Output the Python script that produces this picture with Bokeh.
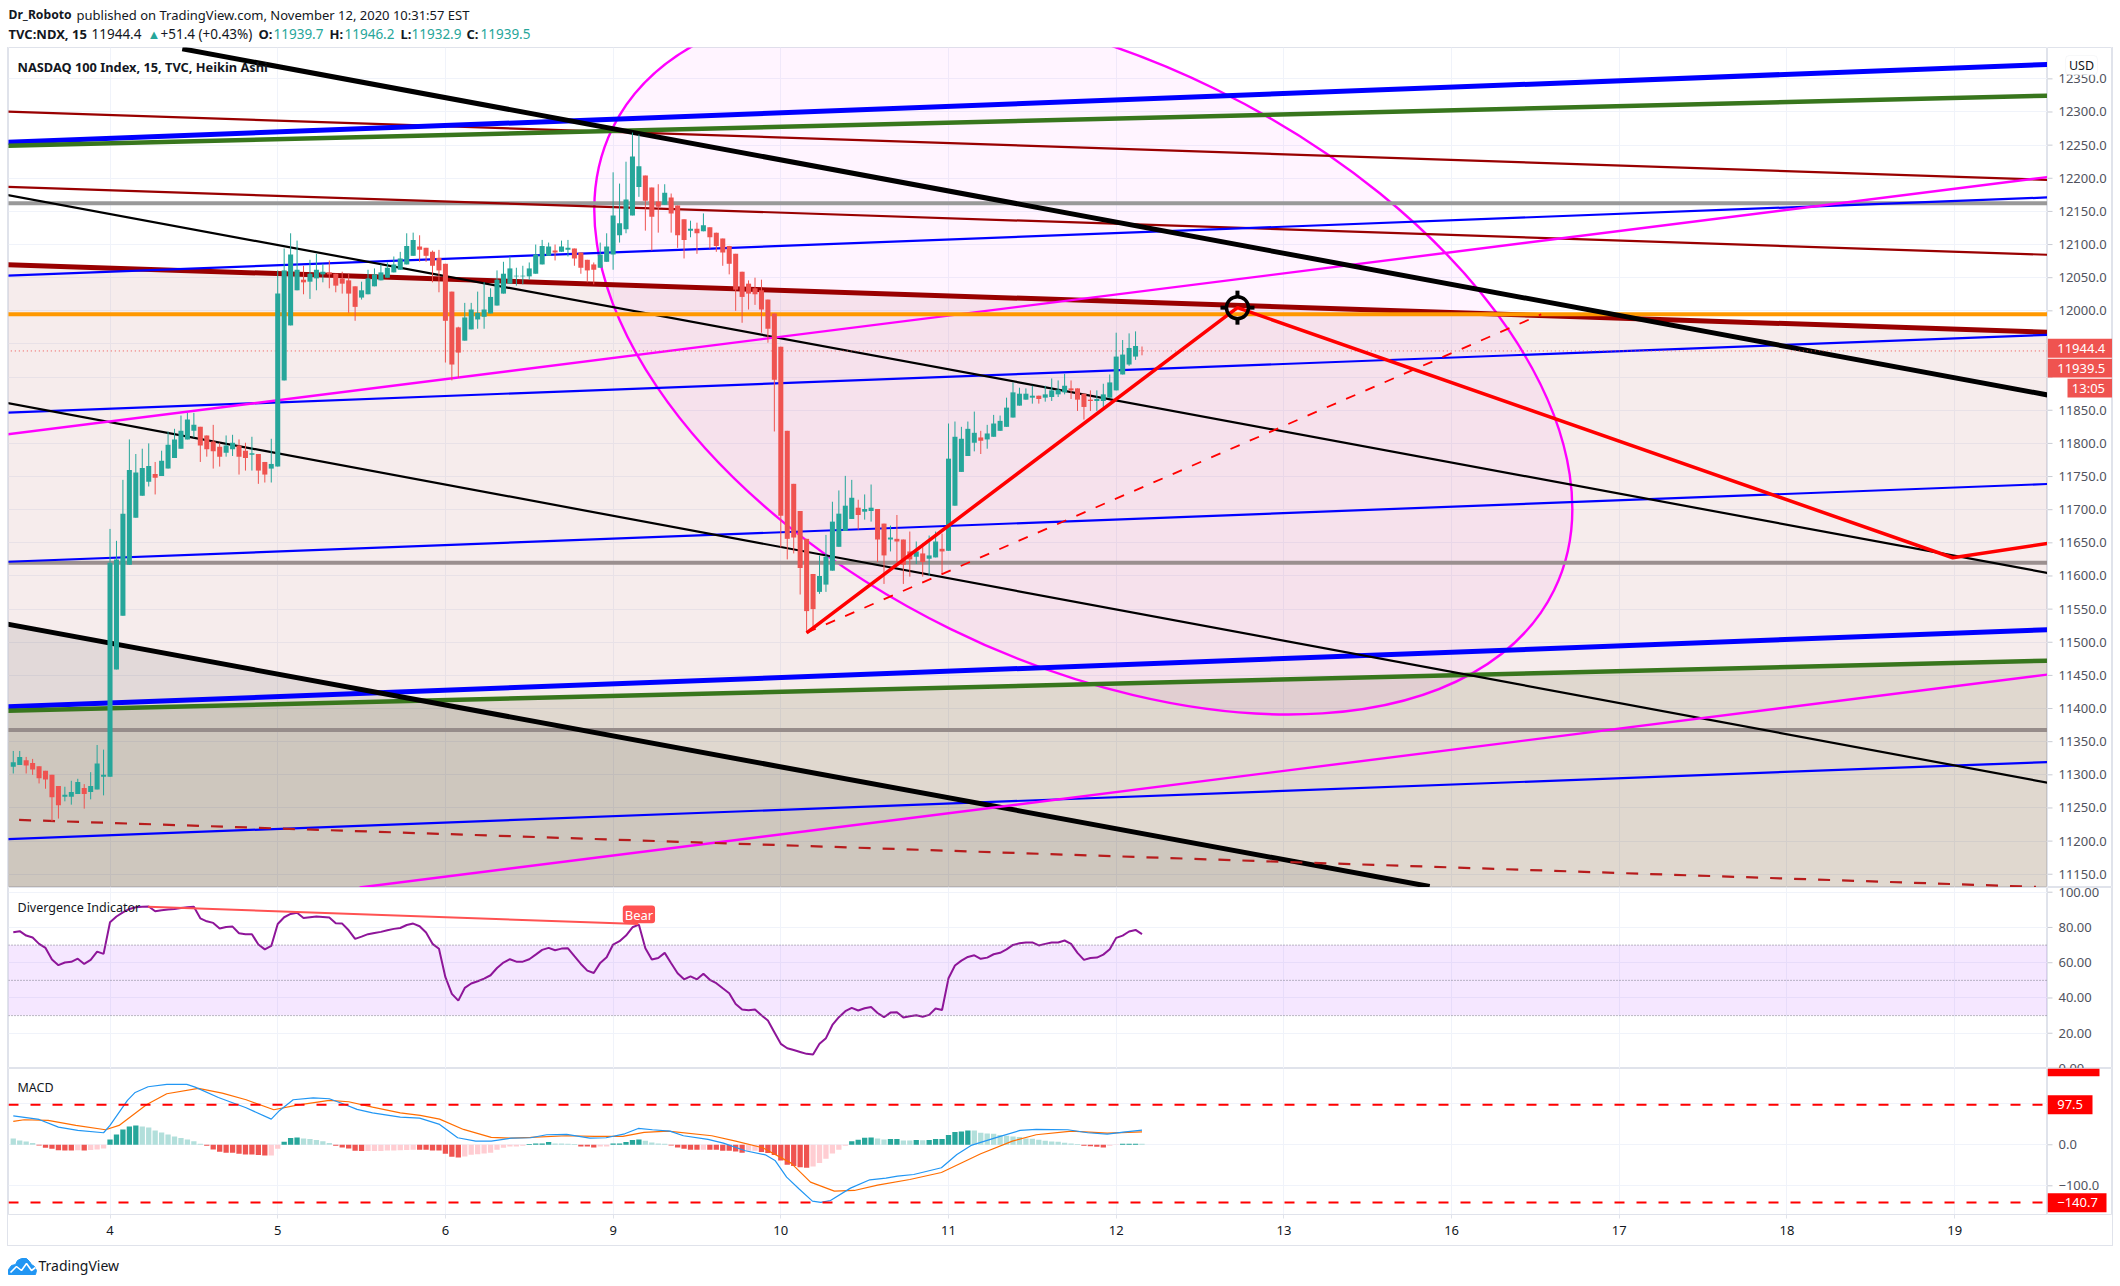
from bokeh.plotting import figure
from bokeh.layouts import column, row
from bokeh.embed import file_html
from bokeh.resources import INLINE
from bokeh.core.properties import value
from bokeh.models import Range1d, FixedTicker, Label, BoxAnnotation, Span
import numpy as np

# ---------------- data ----------------
opens = [11312,11315,11322,11318,11313,11306,11300,11283,11267,11267,11271,11280,11274,11278,11297,
 11297,11459,11540,11617,11688,11721,11742,11754,11751,11762,
 11778,11792,11806,11819,11825,11812,11803,11795,11786,11791,
 11797,11789,11783,11784,11772,11762,11765,11895,11978,12031,
 12047,12044,12049,12055,12058,12056,12049,12046,12037,12020,
 12025,12037,12046,12050,12058,12062,12070,12083,12097,12095,
 12089,12080,12071,12029,11975,11955,11972,11987,11991,11996,
 12008,12026,12041,12052,12052,12052,12056,12070,12083,12091,
 12089,12092,12094,12088,12077,12070,12065,12074,12085,12114,
 12123,12144,12187,12204,12186,12165,12160,12171,12159,12138,
 12121,12124,12120,12126,12118,12109,12098,12086,12059,12041,
 12034,12031,12017,11996,11946,11819,11739,11698,11656,11603,
 11576,11587,11608,11644,11668,11686,11703,11697,11698,11701,
 11679,11655,11656,11655,11637,11629,11634,11626,11628,11641,
 11638,11706,11757,11781,11801,11809,11806,11810,11819,11825,
 11839,11857,11866,11869,11872,11869,11870,11874,11877,11883,
 11883,11875,11866,11864,11864,11869,11880,11904,11919,11931,11939.7]
closes = [11319,11327,11314,11308,11295,11293,11266,11254,11270,11274,11289,11271,11283,11317,11300,
 11620,11625,11694,11760,11756,11763,11766,11748,11774,11798,
 11806,11819,11836,11828,11797,11791,11788,11780,11797,11801,
 11780,11778,11785,11759,11753,11769,12026,12061,12085,12062,
 12043,12056,12062,12059,12055,12038,12041,12026,12006,12031,
 12049,12055,12058,12065,12070,12079,12098,12107,12092,12083,
 12068,12061,11985,11919,11937,11990,12002,11997,12002,12021,
 12047,12056,12064,12053,12053,12064,12085,12098,12097,12088,
 12097,12095,12079,12065,12061,12062,12085,12097,12144,12132,
 12168,12233,12218,12166,12142,12157,12178,12147,12114,12107,
 12124,12117,12129,12111,12098,12088,12071,12032,12021,12026,
 12025,12002,11973,11896,11691,11656,11658,11612,11547,11550,
 11600,11629,11682,11694,11706,11718,11692,11701,11703,11655,
 11631,11658,11652,11617,11625,11637,11621,11631,11652,11637,
 11777,11810,11807,11822,11816,11804,11815,11830,11834,11854,
 11877,11875,11875,11872,11867,11874,11880,11881,11887,11880,
 11866,11855,11864,11867,11874,11892,11931,11934,11944,11947,11939.5]
highs = [11336,11336,11327,11324,11313,11306,11300,11283,11282,11291,11294,11286,11304,11345,11338,
 11671,11653,11745,11806,11784,11792,11800,11772,11789,11818,
 11822,11842,11846,11846,11825,11812,11828,11801,11812,11813,
 11806,11801,11810,11784,11772,11807,12061,12094,12117,12106,
 12068,12077,12086,12071,12076,12056,12059,12056,12037,12044,
 12062,12064,12070,12073,12082,12089,12117,12118,12114,12095,
 12091,12092,12071,12029,11976,12012,12012,12029,12043,12034,
 12061,12074,12082,12065,12068,12073,12100,12107,12103,12100,
 12106,12107,12094,12088,12077,12073,12103,12117,12209,12192,
 12225,12269,12266,12204,12186,12191,12191,12177,12159,12138,
 12136,12133,12147,12126,12118,12109,12098,12086,12059,12046,
 12050,12047,12017,11996,11946,11819,11739,11698,11656,11603,
 11631,11662,11712,11729,11751,11745,11715,11723,11738,11701,
 11679,11676,11692,11655,11667,11652,11649,11661,11667,11664,
 11830,11833,11825,11833,11848,11819,11828,11843,11842,11869,
 11892,11884,11883,11887,11872,11887,11898,11895,11905,11895,
 11883,11875,11880,11880,11890,11904,11967,11956,11966,11969,11946.2]
lows = [11302,11315,11302,11300,11287,11279,11230,11234,11260,11255,11271,11249,11263,11278,11269,
 11297,11459,11540,11617,11688,11721,11735,11723,11751,11762,
 11778,11792,11806,11809,11772,11780,11762,11765,11780,11781,
 11753,11759,11759,11739,11741,11741,11765,11895,11978,12031,
 12025,12018,12031,12043,12034,12028,12026,11997,11985,12017,
 12025,12037,12046,12050,12058,12062,12070,12083,12074,12074,
 12043,12028,11922,11895,11899,11955,11972,11973,11973,11996,
 12008,12026,12041,12038,12040,12047,12056,12070,12083,12076,
 12089,12082,12068,12056,12043,12040,12065,12074,12062,12103,
 12117,12144,12172,12121,12091,12118,12160,12118,12095,12079,
 12111,12086,12120,12094,12089,12068,12055,12000,11982,12002,
 12009,11967,11952,11818,11643,11625,11634,11572,11516,11520,
 11573,11576,11608,11644,11668,11686,11670,11685,11682,11621,
 11588,11637,11621,11588,11599,11618,11599,11600,11628,11603,
 11638,11706,11757,11781,11788,11784,11792,11810,11819,11825,
 11839,11857,11866,11860,11860,11863,11864,11870,11874,11867,
 11849,11836,11849,11849,11855,11869,11880,11904,11917,11926,11932.9]

rsi = [77.3,77.9,75.4,74.3,70.7,68.4,61.8,58.6,60.1,60.5,62.3,59.3,61.6,66.3,65,83,86.2,88.6,90.5,91.5,
 91.7,91.9,89.2,89.8,90.2,90.5,91.1,91.5,91.7,85.2,83.5,82.6,79.4,80.3,80.5,76.7,76.2,76.2,70.3,67.6,
 69.5,82,85.8,87.7,88.3,85.4,85.8,86.2,86,85.6,82.4,82.2,78.4,73.5,74.8,76.2,76.9,77.5,78.4,79.2,
 79.7,81.4,82.2,80.7,77.1,70.7,67.9,51.8,42.3,38.5,45.7,48.2,49.5,51,52.9,57,60.1,62,60.6,60.6,
 62,64.6,67.3,68.4,67.1,68,68.2,63.7,59.3,55.5,54.2,59.9,63.1,70.3,72.2,
 75.4,80.1,81.6,68.2,61.8,62.7,65.6,59.7,54,50.6,52.3,50.6,53.7,50.3,48.4,45.5,42.7,36.6,33.4,33,
 33.4,30.2,27.2,20.6,14,11.5,10.5,9.4,8.3,7.9,14,17.2,24.7,29.1,32.5,34.4,32.9,34.2,34.9,31.5,
 29.1,31.7,31.9,28.9,29.6,30.2,29.4,30.4,34,33.2,51.2,58.4,61.2,63.3,64.2,62.2,62.9,64.8,65.6,67.6,
 70.1,71,71.5,71.5,69.8,70.7,71.5,71.5,72.6,70.7,65.6,61.6,62.7,62.9,64.6,67.6,74.1,75.4,77.7,78.6,76.2]

macd_hist = [15.4,10.6,8.1,4.1,-1.6,-7.3,-9.8,-13.6,-13.7,-13.8,-13.6,-13.9,-13,-11.4,-8.9,
 13,25.2,37.4,44.7,47.2,44.7,42.3,35,30.1,25.2,20.3,16.3,13,8.9,2.4,
 -2.4,-11.4,-17.1,-19.5,-19.6,-22,-23.6,-23.7,-25.2,-26,-25.9,-9.8,
 7.3,16.3,17.9,15.4,13.8,11.4,8.9,4.1,
 -2.4,-6.5,-8.9,-14.6,-15.4,-15.3,-15.2,-15.1,-13.8,-13.7,-13.6,-13,-12.2,
 -12.3,-12.4,-13.8,-13.9,-22,-29.3,-30.9,-28.5,-24.4,-22.8,-21.1,-19.5,-12.2,-7.3,-4.1,-4,-2.4,
 1.6,3.3,3.4,6.5,3.3,3.2,2.4,1.6,-4.1,-4.2,-6.5,-4.1,-4,
 3.3,3.4,6.5,11.4,13,9.8,5.7,3.3,2.4,
 -1.6,-6.5,-9.8,-12.2,-12.3,-12.1,-12.2,-12.3,-14.6,-14.7,-16.3,-19.5,-14.6,-14.5,-17.9,-20.3,-25.2,
 -38.2,-48.8,-52,-54.5,-56.1,-52.8,-44.7,-34.1,-21.1,-12.2,-2.4,
 8.9,12.2,17.1,17.9,15.4,13,13.8,13.9,10.6,10.5,11.4,11.3,11.4,13.8,13.9,23.6,30.9,32.5,35,34.9,
 29.3,27.6,26.8,23.6,22,20.3,18.7,15.4,14.6,12.2,9.8,8.1,7.3,4.9,3.3,1.6,
 -2.4,-3.3,-4.9,-6.5,-2.4,-0.8,2.4,2.5,2.6,2.4]

macd_x = [0,4,7,10,14,15,17.7,18.9,20.9,23.8,26.9,28.2,31.8,36.1,40,41.3,43.4,46.5,49,51.1,53.3,55.7,60,63,66.1,
 68.9,71.7,74.1,77.2,80.2,82.7,85.8,89.4,91.9,94.8,96.9,99.1,101.8,103.9,107.7,110.1,113.5,116.6,118.1,119.9,
 121.8,123.9,125.2,126.7,129.8,132.8,135.3,137.1,139.6,143.9,146.3,148.5,152.5,156.1,158.6,163.5,166.6,169.6,172.1,175]
macd_line = [70.7,61.8,43.1,35,29.3,47.2,108.1,127.6,141.5,147.2,147.2,140.6,115.4,90.2,62.6,83.7,109.8,114.6,112.2,100,86.2,78,67.5,65,49.6,
 17.1,8.9,8.9,16.3,17.1,24.4,25.2,16.3,17.1,26.8,39.8,36.6,33.3,22,13,4.1,-14.6,-24.4,-38.2,-78.9,
 -107.3,-137.4,-140.6,-135.8,-105.7,-85.4,-81.3,-76.4,-72.4,-56.1,-23.6,-1.6,17.9,35,37.4,36.6,29.3,26,30.9,35.8]
signal_x = [0,1.7,5.4,9.7,14.3,16.4,20.7,23.8,28.7,32.4,36.1,40.4,44,49,52,55.7,60,63.1,66.1,69.8,74.1,77.2,80.2,85.8,90.1,
 94.5,97.8,101.5,108.3,112,116.2,120.6,123.6,127.3,130.4,134,139,143.9,150,154.9,158.6,164.1,169.6,175]
signal_line = [56.9,61,59.3,47.2,36.6,47.2,98.4,124.4,137.4,126,109.8,85.4,96.7,108.1,104.9,91.9,78,71.5,62.6,37.4,17.9,16.3,17.9,22,20.3,
 20.3,30.1,33.3,22,8.9,-7.3,-44.7,-91.1,-113,-111.4,-98.4,-84.6,-67.5,-22,8.9,24.4,33.3,28.5,31.7]

day_ticks = [15,41,67,93,119,145,171,197,223,249,275,301]
day_labels = ["4","5","6","9","10","11","12","13","16","17","18","19"]
price_ticks = list(range(11150, 12351, 50))
price_hidden = [11900, 11950]
osc_ticks = [0,20,40,60,80,100]
macd_ticks = [100,0,-100]
macd_hidden = [100]

# drawings: price at the left and right pane edge
blue_top = [12254.3, 12372]
green_top = [12248.9, 12324.8]
darkred_a = [12300.7, 12197.5]
darkred_b = [12187, 12084.4]
darkred_thick = [12069.7, 11967.5]
blue_b = [12053.1, 12171.3]
blue_c = [11846.3, 11964]
blue_d = [11621.4, 11739]
blue_low = [11402.6, 11519.2]
green_low = [11396.5, 11472.3]
blue_e = [11203, 11319.5]
black_a = [12175, 11603.4]
black_b = [11861, 11287]
magenta_a = [11813.6, 12202.6]
black_top_x, black_top = [26.2, 316], [12395.3, 11872]
black_low_x, black_low = [-1, 219.6], [11527.4, 11131.5]
magenta_low_x, magenta_low = [53.7, 316], [11130, 11452]
dash_red_x, dash_red = [0.9, 313.6], [11232, 11131]
red_path_x, red_path = [123, 189.8, 300.7, 316], [11514.3, 12004.8, 11627.5, 11650]
red_dash_x, red_dash = [123, 236.9], [11514.3, 11994.7]
level_gray_a, level_gray_b, level_gray_c = 12162.4, 11620, 11367.8
level_orange = 11994.7
last_price = 11939.5
divergence_x, divergence_y = [20.9, 96.9], [91.7, 82]

# ---------------- geometry ----------------
XL, XR = -0.74, 315.39
EDGE_X = [-1, 316]
C_GRID = "#f0f3fa"
C_EDGE = "#e0e3eb"
C_AXIS = "#50535e"
TEAL, RED = "#26a69a", "#ef5350"
FONT = "Noto Sans"
x_range = Range1d(XL, XR)


def pane(h, yr, xaxis=False, bottom=0):
    p = figure(width=2039, height=h, x_range=x_range, y_range=Range1d(*yr),
               y_axis_location=None, x_axis_location="below" if xaxis else None,
               output_backend="svg", toolbar_location=None, tools="",
               min_border=0, min_border_bottom=bottom,
               outline_line_color=C_EDGE, background_fill_color="white", border_fill_color="white")
    p.xgrid.ticker = FixedTicker(ticks=day_ticks)
    p.xgrid.grid_line_color = C_GRID
    p.ygrid.grid_line_color = C_GRID
    return p


def scale(h, y_range, ticks, labels, bottom=0):
    """Narrow figure that holds the price scale, so tags can be drawn as glyphs."""
    r = figure(width=65, height=h, x_range=Range1d(0, 65), y_range=y_range,
               x_axis_location=None, y_axis_location=None, output_backend="svg",
               toolbar_location=None, tools="", min_border=0, min_border_bottom=bottom,
               outline_line_color=C_EDGE, background_fill_color="white", border_fill_color="white")
    r.grid.visible = False
    r.segment([0] * len(ticks), ticks, [5] * len(ticks), ticks, line_color="#c8cbd3", line_width=1)
    keep = [(t, s) for t, s in zip(ticks, labels) if s]
    r.text([11] * len(keep), [t for t, _ in keep], [s for _, s in keep], text_font=value(FONT),
           text_font_size="13px", text_color=C_AXIS, text_baseline="middle")
    return r


def tag(r, s, left, right, top, bottom, color, tx):
    r.quad(left=[left], right=[right], top=[top], bottom=[bottom], fill_color=color, line_color=None)
    if s:
        r.text([tx], [(top + bottom) / 2], [s], text_font=value(FONT), text_font_size="13px",
               text_color="white", text_baseline="middle")


def txt(p, s, x, y, xu="screen", yu="screen", **k):
    k.setdefault("text_font", FONT)
    k.setdefault("text_font_size", "14px")
    k.setdefault("text_color", "#131722")
    k.setdefault("text_baseline", "middle")
    k.setdefault("level", "overlay")
    p.add_layout(Label(x=x, y=y, x_units=xu, y_units=yu, text=s, **k))


# ---------------- header ----------------
head = figure(width=2113, height=47, x_range=Range1d(0, 2113), y_range=Range1d(0, 47),
              x_axis_location=None, y_axis_location=None, output_backend="svg",
              toolbar_location=None, tools="", min_border=0, outline_line_color=None)
head.grid.visible = False
Y1, Y2 = 33, 14
txt(head, "Dr_Roboto", 8, Y1, text_font_style="bold", text_font_size="12.2px")
txt(head, "published on TradingView.com, November 12, 2020 10:31:57 EST", 76, Y1, text_font_size="13px")
txt(head, "TVC:NDX, 15", 8, Y2, text_font_style="bold", text_font_size="13px")
txt(head, "11944.4", 91, Y2, text_font_size="13.5px")
txt(head, "\u25b2", 147, Y2, text_color=TEAL, text_font_size="13px")
txt(head, "+51.4 (+0.43%)", 160, Y2, text_font_size="13.5px")
for s, x, v, xv in [("O:", 258, "11939.7", 273), ("H:", 329, "11946.2", 344),
                    ("L:", 400, "11932.9", 411), ("C:", 466, "11939.5", 480)]:
    txt(head, s, x, Y2, text_font_style="bold", text_font_size="13px")
    txt(head, v, xv, Y2, text_color=TEAL, text_font_size="13.5px")

# ---------------- main pane ----------------
main = pane(840, (11130.0, 12397.3))
main.ygrid.ticker = FixedTicker(ticks=price_ticks)

BOTTOM = [11100, 11100]
main.varea(x=EDGE_X, y1=darkred_thick, y2=BOTTOM, fill_color="#8e1111", fill_alpha=0.08)
main.varea(x=EDGE_X, y1=green_low, y2=BOTTOM, fill_color="#3f4e00", fill_alpha=0.12)
main.varea(x=black_low_x, y1=black_low, y2=BOTTOM, fill_color="black", fill_alpha=0.08)

# tilted ellipse, sized in screen pixels
main.ellipse(x=[165.9], y=[11927.1], width=[1048.8], height=[601.6], angle=[-0.4564],
             width_units="screen", height_units="screen",
             fill_color="#ff00ff", fill_alpha=0.045, line_color="#ff00ff", line_width=2.4)

for yy, c in [(level_gray_a, "#999999"), (level_gray_b, "#9a8f8f"), (level_gray_c, "#968c8a")]:
    main.line(EDGE_X, [yy, yy], line_color=c, line_width=4)
for yy, c, w in [(darkred_a, "#990000", 2.2), (darkred_b, "#990000", 2.2), (darkred_thick, "#990000", 5),
                 (blue_top, "#0000ff", 5), (green_top, "#38761d", 4.5),
                 (blue_low, "#0000ff", 5), (green_low, "#38761d", 4.5),
                 (blue_b, "#0000ff", 2.2), (blue_c, "#0000ff", 2.2), (blue_d, "#0000ff", 2.2), (blue_e, "#0000ff", 2.2),
                 (black_a, "black", 2.2), (black_b, "black", 2.2), (magenta_a, "#ff00ff", 2.4)]:
    main.line(EDGE_X, yy, line_color=c, line_width=w)
main.line(EDGE_X, [level_orange, level_orange], line_color="#ff9800", line_width=4)
main.line(black_top_x, black_top, line_color="black", line_width=5)
main.line(black_low_x, black_low, line_color="black", line_width=5)
main.line(magenta_low_x, magenta_low, line_color="#ff00ff", line_width=2.4)
main.line(dash_red_x, dash_red, line_color="#b71c1c", line_width=2.2, line_dash="12 12")
main.line(EDGE_X, [last_price, last_price], line_color=RED, line_width=1, line_dash="1 3")

idx = np.arange(len(closes))
assert len(opens) == len(closes) == len(highs) == len(lows) == 176
o, c_ = np.array(opens), np.array(closes)
cols = [TEAL if b >= a else RED for a, b in zip(opens, closes)]
main.segment(idx, highs, idx, lows, line_color=cols, line_width=1)
main.vbar(x=idx, width=0.78, top=np.maximum(o, c_), bottom=np.minimum(o, c_), fill_color=cols, line_color=None)

main.line(red_dash_x, red_dash, line_color="#ff0000", line_width=1.8, line_dash="10 11")
main.line(red_path_x, red_path, line_color="#ff0000", line_width=3.5)

# crosshair target on the peak
px, py = red_path_x[1], red_path[1]
main.scatter([px], [py], marker="circle", size=22, fill_color=None, line_color="black", line_width=3.5)
bx, by = 6.45, 1 / 0.6625
main.segment([px, px, px - 17 / bx, px + 11 / bx], [py + 17 * by, py - 11 * by, py, py],
             [px, px, px - 11 / bx, px + 17 / bx], [py + 11 * by, py - 17 * by, py, py],
             line_color="black", line_width=4)

txt(main, "NASDAQ 100 Index, 15, TVC, Heikin Ashi", 9, 821, text_font_size="12.8px", text_font_style="bold")

main_r = scale(840, main.y_range, price_ticks,
               ["" if t in price_hidden else f"{t:.1f}" for t in price_ticks])
tag(main_r, "11944.4", 0, 65, 11958, 11929.3, RED, 9.7)
tag(main_r, "11939.5", 0, 65, 11927.8, 11899.6, RED, 9.7)
tag(main_r, "13:05", 20, 65, 11897.6, 11869.4, RED, 24.3)
main_r.add_layout(BoxAnnotation(left=18, right=50, top=12385.3, bottom=12356, fill_color="white", fill_alpha=1,
                                line_color=C_EDGE, line_width=1, border_radius=4, level="annotation"))
txt(main_r, "USD", 34, 12370.6, xu="data", yu="data", text_align="center", text_font_size="12.5px")

# ---------------- oscillator pane ----------------
osc = pane(181, (0, 102.67))
osc.ygrid.ticker = FixedTicker(ticks=osc_ticks)
osc.varea(x=EDGE_X, y1=[70, 70], y2=[30, 30], fill_color="#9915ff", fill_alpha=0.1)
for lv in (70, 50, 30):
    osc.add_layout(Span(location=lv, dimension="width", line_color="#787b86", line_width=1, line_dash="1 2"))
osc.line(idx, rsi, line_color="#8e1599", line_width=2)
osc.line(divergence_x, divergence_y, line_color="#ff5252", line_width=2)
osc.add_layout(BoxAnnotation(left=94.5, right=99.5, top=92.45, bottom=82.4, fill_color="#ff5252", fill_alpha=1,
                             line_color=None, border_radius=3, level="annotation"))
txt(osc, "Bear", 97, 87.3, xu="data", yu="data", text_color="white", text_align="center", text_font_size="13px")
txt(osc, "Divergence Indicator", 9, 161, text_font_size="12.5px")
osc_r = scale(181, osc.y_range, osc_ticks, [f"{t:.2f}" for t in osc_ticks])

# ---------------- MACD pane ----------------
macd = pane(177, (-170, 186), xaxis=True, bottom=31)
macd.ygrid.ticker = FixedTicker(ticks=macd_ticks)
xa = macd.xaxis[0]
xa.ticker = FixedTicker(ticks=day_ticks)
xa.major_label_overrides = dict(zip(day_ticks, day_labels))
xa.axis_line_color = C_EDGE
xa.major_tick_line_color = C_EDGE
xa.major_tick_in = 0
xa.major_tick_out = 4
xa.minor_tick_line_color = None
xa.major_label_standoff = 7
xa.major_label_text_font = FONT
xa.major_label_text_font_size = "13px"
xa.major_label_text_color = "#131722"

hist = np.array(macd_hist)
assert len(hist) == 176 and len(rsi) == 176
prev = np.r_[hist[0] + 1, hist[:-1]]
hcols = [("#26a69a" if v > q else "#b2dfdb") if v >= 0 else ("#ef5350" if v < q else "#ffcdd2")
         for v, q in zip(hist, prev)]
macd.vbar(x=idx, width=0.82, top=np.maximum(hist, 0), bottom=np.minimum(hist, 0), fill_color=hcols, line_color=None)
macd.line(signal_x, signal_line, line_color="#ff6d00", line_width=1.2)
macd.line(macd_x, macd_line, line_color="#2196f3", line_width=1.2)
for lv in (97.5, -140.7):
    macd.add_layout(Span(location=lv, dimension="width", line_color="#ff0000", line_width=2, line_dash="10 12"))
txt(macd, "MACD", 9, 127, text_font_size="12.5px")

macd_r = scale(177, macd.y_range, macd_ticks,
               ["" if t in macd_hidden else f"{t:.1f}".replace("-", "\u2212") for t in macd_ticks], bottom=31)
tag(macd_r, "", 0, 52, 186, 167.3, "#ff0000", 9.7)
tag(macd_r, "97.5", 0, 45, 121, 74.6, "#ff0000", 9.7)
tag(macd_r, "\u2212140.7", 0, 59, -118, -164.4, "#ff0000", 9.7)

# ---------------- footer ----------------
foot = figure(width=2113, height=40, x_range=Range1d(0, 2113), y_range=Range1d(40, 0),
              x_axis_location=None, y_axis_location=None, output_backend="svg",
              toolbar_location=None, tools="", min_border=0, outline_line_color=None)
foot.grid.visible = False
logo_x = [8, 8, 11, 15, 17, 21, 26, 29, 31, 34, 36, 35]
logo_y = [28, 23, 19, 18, 14, 12, 12, 15, 18, 20, 24, 28]
foot.patch(logo_x, logo_y, fill_color="#2196f3", line_color="#2196f3", line_join="round")
foot.line([10, 16, 21, 26, 31, 35], [26, 20, 24, 17, 24, 21], line_color="white", line_width=1.6)
txt(foot, "TradingView", 38, 21, text_font_size="14px")

panes = column(row(main, main_r, spacing=0), row(osc, osc_r, spacing=0), row(macd, macd_r, spacing=0),
               spacing=0, margin=(0, 0, 0, 7),
               styles={"border-left": "1px solid " + C_EDGE, "border-right": "1px solid " + C_EDGE,
                       "border-bottom": "1px solid " + C_EDGE})
layout = column(head, panes, foot, spacing=0, margin=(0, 0, 0, 0))
open("out.html", "w").write(file_html(layout, INLINE))
